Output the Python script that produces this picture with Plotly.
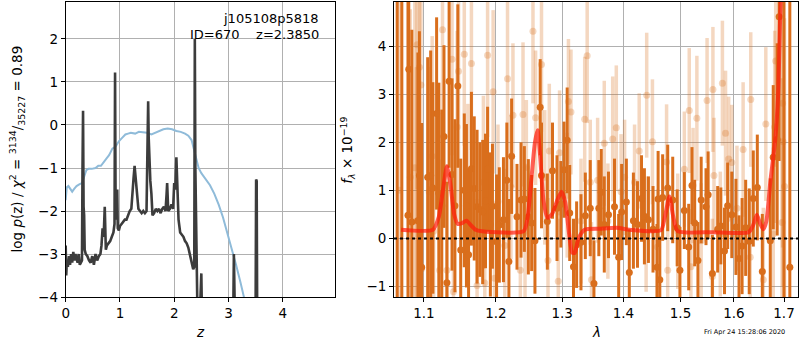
import plotly.graph_objects as go

# ---------------- Left panel: redshift PDF ----------------
z_grid = [0.00, 0.01, 0.02, 0.04, 0.06, 0.08, 0.10, 0.12, 0.14, 0.16,
          0.18, 0.20, 0.22, 0.24, 0.26, 0.28, 0.30, 0.31, 0.32, 0.33,
          0.34, 0.35, 0.37, 0.40, 0.43, 0.46, 0.49, 0.52, 0.55, 0.58,
          0.61, 0.64, 0.66, 0.68, 0.70, 0.72, 0.73, 0.74, 0.76, 0.79,
          0.82, 0.85, 0.88, 0.90, 0.91, 0.92, 0.94, 0.95, 0.96, 0.98,
          1.00, 1.03, 1.06, 1.09, 1.12, 1.15, 1.18, 1.21, 1.23, 1.25,
          1.27, 1.28, 1.30, 1.32, 1.34, 1.37, 1.40, 1.43, 1.46, 1.49,
          1.51, 1.52, 1.53, 1.54, 1.56, 1.58, 1.60, 1.63, 1.66, 1.69,
          1.72, 1.75, 1.78, 1.81, 1.84, 1.86, 1.87, 1.89, 1.92, 1.95,
          1.98, 2.00, 2.02, 2.04, 2.06, 2.08, 2.11, 2.14, 2.17, 2.20,
          2.23, 2.26, 2.29, 2.32, 2.35, 2.37, 2.38, 2.39, 2.41, 2.43,
          2.47, 2.49, 2.50, 2.51, 2.53, 2.60, 3.00, 3.08, 3.09, 3.10,
          3.11, 3.12, 3.20, 3.49, 3.50, 3.51, 3.52, 3.53, 3.60, 5.00]
log_pz = [-2.8, -3.5, -3.2, -3.3, -3.05, -3.25, -3.0, -3.2, -2.95, -3.15,
          -3.0, -3.1, -3.2, -3.0, -3.25, -3.2, -3.15, -1.0, 0.33, -1.9,
          -2.1, -2.9, -3.0, -3.05, -3.15, -3.2, -3.05, -3.25, -3.0, -3.15,
          -3.05, -3.0, -2.8, -2.4, -2.6, -1.9, -2.5, -2.9, -2.8, -2.75,
          -2.7, -2.6, -2.5, -2.3, 1.22, -1.9, -2.2, -1.5, -2.4, -2.45,
          -2.35, -2.3, -2.25, -2.2, -2.2, -2.1, -2.0, -1.95, -1.5, -1.25,
          -0.95, -1.1, -1.4, -1.8, -1.95, -2.0, -2.05, -2.0, -2.05, -2.0,
          -0.8, 0.55, -0.3, -0.7, -1.3, -1.6, -2.1, -2.05, -1.95, -2.0,
          -1.95, -2.05, -1.95, -1.9, -2.0, -1.6, -1.35, -2.0, -1.95, -1.85,
          -1.95, -1.35, -1.5, -0.75, -1.8, -2.2, -2.5, -2.55, -2.6, -2.7,
          -2.75, -2.85, -3.0, -3.2, -3.35, -3.3, 2.0, -1.0, -4.3, -4.5,
          -4.5, -3.8, -3.45, -4.3, -5.0, -5.0, -5.0, -4.6, -4.2, -3.0,
          -4.2, -4.6, -5.0, -5.0, -4.5, -1.27, -1.3, -4.5, -5.0, -5.0]

z_chi = [0.0, 0.02, 0.05, 0.08, 0.12, 0.16, 0.20, 0.25, 0.30, 0.34,
         0.38, 0.42, 0.48, 0.55, 0.60, 0.65, 0.70, 0.75, 0.80, 0.86,
         0.92, 0.98, 1.04, 1.10, 1.15, 1.20, 1.28, 1.35, 1.42, 1.50,
         1.58, 1.65, 1.72, 1.80, 1.88, 1.96, 2.04, 2.12, 2.20, 2.26,
         2.32, 2.36, 2.40, 2.45, 2.50, 2.58, 2.66, 2.74, 2.82, 2.90,
         2.98, 3.06, 3.14, 3.22, 3.30, 3.36]
chi2_scaled = [-1.75, -1.45, -1.42, -1.48, -1.55, -1.48, -1.42, -1.38, -1.35, -1.2,
               -1.05, -1.02, -1.02, -1.0, -0.95, -0.95, -0.85, -0.78, -0.7, -0.55,
               -0.5, -0.38, -0.3, -0.22, -0.2, -0.18, -0.2, -0.16, -0.17, -0.18,
               -0.22, -0.18, -0.14, -0.1, -0.08, -0.1, -0.14, -0.16, -0.2, -0.25,
               -0.35, -0.55, -0.8, -1.0, -1.12, -1.25, -1.4, -1.6, -1.85, -2.15,
               -2.5, -2.85, -3.25, -3.65, -4.05, -4.4]

# ---------------- Right panel: spectrum ----------------
lam_dark = [1.065, 1.071, 1.079, 1.080, 1.084, 1.092, 1.094, 1.097, 1.105, 1.109,
            1.112, 1.117, 1.120, 1.124, 1.127, 1.131, 1.134, 1.138, 1.142, 1.146,
            1.150, 1.155, 1.158, 1.161, 1.165, 1.169, 1.173, 1.177, 1.181, 1.185,
            1.188, 1.192, 1.195, 1.201, 1.205, 1.211, 1.216, 1.219, 1.223, 1.231,
            1.237, 1.242, 1.248, 1.253, 1.258, 1.266, 1.268, 1.277, 1.285, 1.292,
            1.298, 1.303, 1.308, 1.312, 1.318, 1.323, 1.330, 1.337, 1.345, 1.351,
            1.359, 1.363, 1.368, 1.375, 1.385, 1.392, 1.397, 1.405, 1.410, 1.417,
            1.424, 1.431, 1.436, 1.443, 1.451, 1.458, 1.460, 1.463, 1.468, 1.477,
            1.486, 1.494, 1.499, 1.507, 1.515, 1.521, 1.526, 1.532, 1.538, 1.547,
            1.551, 1.559, 1.569, 1.575, 1.582, 1.588, 1.596, 1.604, 1.610, 1.616,
            1.623, 1.630, 1.638, 1.646, 1.656, 1.672, 1.678, 1.686, 1.690, 1.700,
            1.712]
flux_dark = [6.0, -2.0, 0.48, 3.52, 0.34, 0.37, 1.31, -0.60, 1.27, 1.31,
             1.05, 2.60, 0.94, 0.68, 2.12, -0.92, 3.27, 1.33, 0.68, 3.17,
             -0.24, 1.00, 0.68, -0.34, 1.45, 1.04, 0.66, 0.60, 0.55, 0.78,
             1.44, 0.29, 0.67, -0.07, 0.28, 0.39, 1.21, -0.48, 1.71, 0.45,
             0.80, 0.82, 0.45, 0.32, -0.05, 2.73, 1.31, 0.35, 1.41, 0.63,
             0.71, 1.43, 2.04, 0.53, -0.59, -0.13, -0.08, 0.47, 0.63, -0.94,
             0.63, 0.96, 0.29, 0.49, 0.66, -0.39, 0.55, 0.76, -0.71, 0.37,
             0.29, 0.83, 0.46, 0.39, 0.19, -0.60, 0.82, -0.86, 0.85, 1.05,
             0.80, 0.22, -0.66, 0.58, -0.18, 1.10, 0.32, -0.46, 0.80, 0.66,
             0.91, -0.73, 0.19, 0.26, -0.26, 0.68, 0.49, 0.24, -0.42, -0.16,
             0.22, -0.06, 0.83, 1.06, -0.69, -0.05, 1.69, 2.06, 4.61, 6.5,
             -0.60]
err_dark = [8.0, 7.0, 4.5, 3.0, 4.0, 3.5, 3.0, 3.0, 2.5, 2.6,
            2.2, 2.0, 2.3, 2.0, 1.9, 2.1, 1.8, 2.0, 1.8, 1.7,
            1.9, 1.6, 1.7, 1.8, 1.6, 1.5, 1.6, 1.4, 1.5, 1.4,
            1.3, 1.5, 1.3, 1.4, 1.2, 1.3, 1.2, 1.3, 1.2, 1.1,
            1.2, 1.1, 1.2, 1.0, 1.1, 1.0, 1.1, 1.0, 1.0, 1.1,
            0.9, 1.0, 1.1, 1.0, 1.0, 0.9, 1.0, 0.9, 1.0, 0.9,
            1.0, 0.9, 1.0, 0.9, 1.0, 0.9, 1.0, 0.9, 0.9, 1.0,
            0.9, 0.9, 1.0, 0.9, 0.9, 0.9, 1.0, 0.9, 0.9, 0.9,
            0.9, 0.8, 0.9, 0.8, 0.9, 0.8, 0.9, 0.8, 0.9, 0.8,
            0.9, 0.8, 0.9, 0.8, 0.9, 0.9, 0.9, 1.0, 0.9, 1.0,
            1.0, 1.1, 1.0, 1.1, 1.2, 1.3, 1.5, 2.0, 3.0, 8.0,
            8.0]

lam_light = [1.068, 1.082, 1.088, 1.090, 1.091, 1.094, 1.096, 1.097, 1.107, 1.111,
             1.113, 1.121, 1.125, 1.131, 1.138, 1.140, 1.145, 1.147, 1.155, 1.160,
             1.165, 1.173, 1.182, 1.184, 1.188, 1.196, 1.198, 1.203, 1.213, 1.217,
             1.222, 1.225, 1.236, 1.240, 1.243, 1.245, 1.255, 1.259, 1.268, 1.273,
             1.278, 1.280, 1.294, 1.296, 1.308, 1.310, 1.314, 1.330, 1.336, 1.340,
             1.345, 1.347, 1.357, 1.368, 1.374, 1.382, 1.388, 1.396, 1.402, 1.419,
             1.427, 1.439, 1.440, 1.450, 1.459, 1.475, 1.477, 1.495, 1.507, 1.516,
             1.519, 1.523, 1.530, 1.538, 1.549, 1.559, 1.560, 1.562, 1.574, 1.578,
             1.584, 1.590, 1.596, 1.606, 1.618, 1.632, 1.633, 1.658, 1.663, 1.678,
             1.681, 1.683, 1.696, 1.697, 1.698, 1.701]
flux_light = [1.0, 1.27, 1.47, 0.36, 4.03, 3.56, 3.19, -0.63, 0.97, 1.71,
              0.15, -0.66, 4.34, -0.66, 3.73, -1.11, 2.32, 3.48, 3.83, 0.90,
              3.64, -0.98, 1.17, -0.93, 3.81, 3.05, -0.83, 0.77, -0.15, 3.32,
              1.07, 2.56, -0.66, 2.58, 0.12, 1.48, 4.31, 2.51, 3.62, 1.27,
              -0.46, 1.82, -0.89, 1.78, 0.90, 2.85, 2.63, 0.36, 2.48, 3.80,
              1.17, -0.86, 1.21, 1.98, 0.36, 2.07, 2.30, 0.97, 1.27, 1.17,
              1.82, 0.09, 2.98, 2.01, -0.18, 1.59, -0.66, 0.15, 1.44, 2.66,
              -0.59, 1.10, 2.50, -0.05, 2.87, -0.79, 3.10, 1.31, 0.09, 3.23,
              2.19, 1.65, 1.58, 0.63, 1.85, -0.39, 2.89, -0.86, 2.38, 0.09,
              2.32, 3.69, 0.33, 2.81, 2.01, 1.08]
err_light = [5.0, 3.5, 3.5, 3.2, 3.0, 3.0, 2.8, 3.0, 2.6, 2.5,
             2.4, 2.3, 2.2, 2.2, 2.0, 2.1, 2.0, 2.0, 1.9, 1.9,
             1.8, 1.8, 1.8, 1.7, 1.7, 1.7, 1.6, 1.6, 1.6, 1.6,
             1.5, 1.5, 1.5, 1.5, 1.4, 1.4, 1.5, 1.4, 1.4, 1.4,
             1.3, 1.4, 1.3, 1.3, 1.3, 1.3, 1.3, 1.3, 1.3, 1.4,
             1.3, 1.2, 1.3, 1.3, 1.2, 1.3, 1.3, 1.2, 1.2, 1.2,
             1.2, 1.2, 1.3, 1.3, 1.2, 1.2, 1.2, 1.2, 1.2, 1.3,
             1.2, 1.2, 1.3, 1.2, 1.3, 1.2, 1.3, 1.2, 1.3, 1.3,
             1.3, 1.3, 1.2, 1.3, 1.4, 1.4, 1.4, 1.5, 1.6, 1.8,
             2.0, 2.2, 3.0, 3.0, 3.0, 3.5]

lam_model = [1.070, 1.112, 1.120, 1.126, 1.131, 1.136, 1.141, 1.146, 1.152, 1.158,
             1.164, 1.171, 1.180, 1.241, 1.247, 1.253, 1.258, 1.262, 1.266, 1.271,
             1.277, 1.284, 1.292, 1.299, 1.305, 1.311, 1.316, 1.320, 1.326, 1.336,
             1.360, 1.389, 1.410, 1.465, 1.472, 1.480, 1.487, 1.495, 1.560, 1.629,
             1.638, 1.645, 1.652, 1.658, 1.664, 1.672, 1.682, 1.688, 1.692, 1.697]
flux_model = [0.18, 0.18, 0.45, 1.05, 1.50, 1.10, 0.50, 0.30, 0.32, 0.37,
              0.28, 0.18, 0.15, 0.15, 0.45, 1.30, 2.00, 2.25, 1.70, 0.80,
              0.43, 0.50, 0.78, 0.97, 0.75, 0.10, -0.30, -0.30, 0.00, 0.18,
              0.20, 0.22, 0.18, 0.17, 0.45, 0.87, 0.45, 0.15, 0.13, 0.13,
              0.28, 0.49, 0.30, 0.19, 0.35, 1.17, 2.05, 3.00, 4.56, 6.00]

lam_ticks = [1.1, 1.2, 1.3, 1.4, 1.5, 1.6, 1.7]

ORANGE = "rgb(217,110,28)"
ORANGE_LIGHT = "rgba(217,110,28,0.28)"
FONT = "DejaVu Sans"

fig = go.Figure()

fig.add_trace(go.Scatter(x=z_chi, y=chi2_scaled, mode="lines",
                         line=dict(color="#8fbbd9", width=2),
                         xaxis="x", yaxis="y", showlegend=False))
fig.add_trace(go.Scatter(x=z_grid, y=log_pz, mode="lines",
                         line=dict(color="#3c3c3c", width=2.6),
                         xaxis="x", yaxis="y", showlegend=False))

fig.add_trace(go.Scatter(x=lam_light, y=flux_light, mode="markers",
                         marker=dict(color=ORANGE_LIGHT, size=7),
                         error_y=dict(type="data", array=err_light, color=ORANGE_LIGHT,
                                      thickness=3.5, width=0),
                         xaxis="x2", yaxis="y2", showlegend=False))
fig.add_trace(go.Scatter(x=lam_dark, y=flux_dark, mode="markers",
                         marker=dict(color=ORANGE, size=7),
                         error_y=dict(type="data", array=err_dark, color=ORANGE,
                                      thickness=3, width=0),
                         xaxis="x2", yaxis="y2", showlegend=False))
fig.add_trace(go.Scatter(x=lam_model, y=flux_model, mode="lines",
                         line=dict(color="rgba(255,25,10,0.7)", width=4, shape="spline", smoothing=0.6),
                         xaxis="x2", yaxis="y2", showlegend=False))

fig.add_shape(type="line", xref="x2 domain", x0=0, x1=1, yref="y2", y0=0, y1=0,
              line=dict(color="black", width=2, dash="dot"))

axis_common = dict(showline=True, mirror=True, linecolor="black", linewidth=1,
                   ticks="outside", ticklen=4, tickcolor="black",
                   showgrid=True, gridcolor="#b0b0b0", gridwidth=1,
                   zeroline=False, tickfont=dict(family=FONT, size=13.5, color="black"))

fig.update_layout(
    width=800, height=350, autosize=False,
    margin=dict(l=0, r=0, t=0, b=0),
    paper_bgcolor="white", plot_bgcolor="white",
    font=dict(family=FONT, color="black"),
    xaxis=dict(domain=[62/800, 333/800], range=[0, 4.97], tickvals=[0, 1, 2, 3, 4],
               anchor="y", **axis_common),
    yaxis=dict(domain=[46/350, 348/350], range=[-4, 2.86], tickvals=[-4, -3, -2, -1, 0, 1, 2],
               anchor="x", **axis_common),
    xaxis2=dict(domain=[392/800, 798/800], type="log", range=[0.0257, 0.2378],
                tickvals=lam_ticks, ticktext=[str(v) for v in lam_ticks],
                anchor="y2", **axis_common),
    yaxis2=dict(domain=[46/350, 348/350], range=[-1.22, 4.92], tickvals=[-1, 0, 1, 2, 3, 4],
                anchor="x2", **axis_common),
)

def ann(text, x, y, size=13.5, xanchor="center", angle=0):
    fig.add_annotation(text=text, x=x / 800, y=1 - y / 350, xref="paper", yref="paper",
                       showarrow=False, xanchor=xanchor, yanchor="middle", textangle=angle,
                       font=dict(family=FONT, size=size, color="black"))

ann("j105108p5818", 319, 19, size=13, xanchor="right")
ann("ID=670\u00a0\u00a0\u00a0\u00a0z=2.3850", 319, 35, size=13, xanchor="right")
ann("<i>z</i>", 197, 340)
ann("<i>λ</i>", 595, 340)
ann("log <i>p</i>(z) / <i>χ</i><sup>2</sup> = <sup>3134</sup>/<sub>35227</sub> = 0.89", 13, 152, angle=-90)
ann("<i>f</i><sub><i>λ</i></sub> × 10<sup>−19</sup>", 346, 154, angle=-90)
ann("Fri Apr 24 15:28:06 2020", 787, 340, size=6.5, xanchor="right")

page_fix = (
    "var h=document.documentElement.style,b=document.body.style;"
    "h.margin='0';h.padding='0';h.height='350px';h.overflow='hidden';"
    "b.margin='0';b.padding='0';b.height='350px';b.overflow='hidden';"
)
fig.write_html("out.html", config={"displayModeBar": False, "responsive": False},
               post_script=page_fix)
